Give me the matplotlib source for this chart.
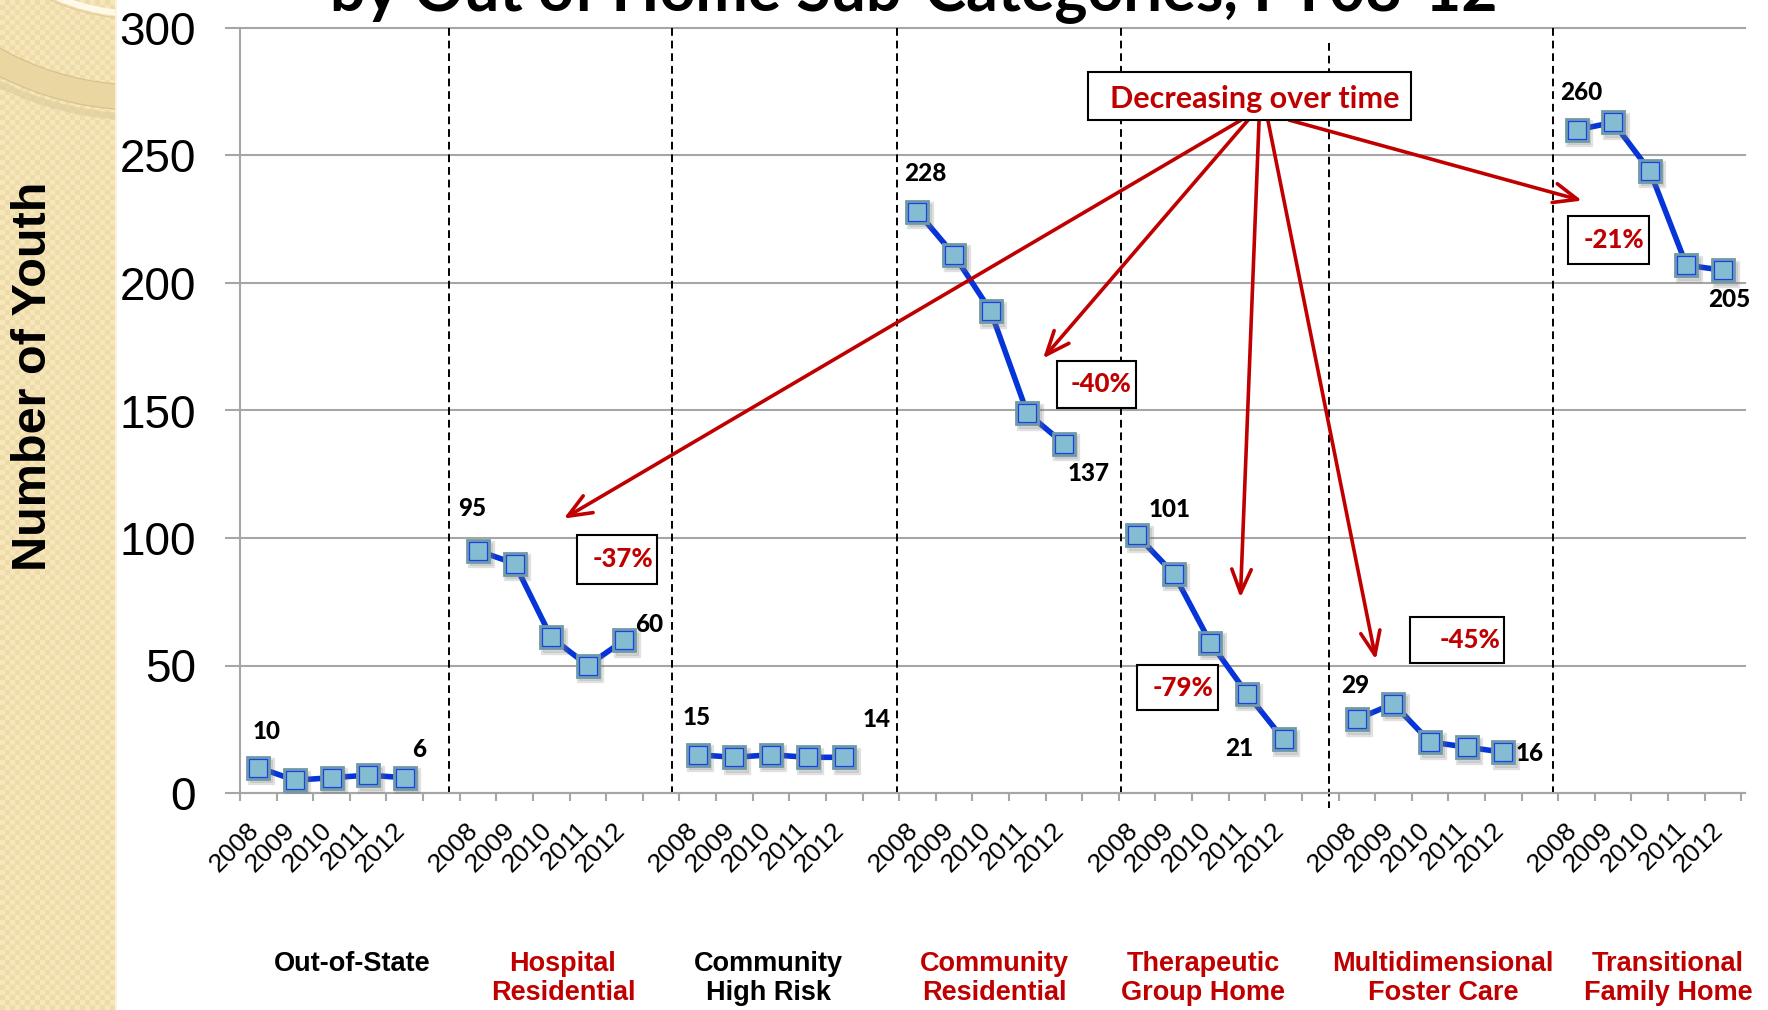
import numpy as np
import matplotlib.pyplot as plt
from matplotlib.patches import Rectangle, Circle
from matplotlib.transforms import ScaledTranslation

plt.rcParams['font.family'] = ['Liberation Sans', 'DejaVu Sans']

RED = '#C00000'
GRID = '#A6A6A6'
NARROW = ['Liberation Sans Narrow', 'Liberation Sans', 'DejaVu Sans']
HUMAN = ['Lato', 'DejaVu Sans']

years = ['2008', '2009', '2010', '2011', '2012']
categories = ['Out-of-State', 'Hospital\nResidential', 'Community\nHigh Risk',
              'Community\nResidential', 'Therapeutic\nGroup Home',
              'Multidimensional\nFoster Care', 'Transitional\nFamily Home']
cat_colors = ['black', RED, 'black', RED, RED, RED, RED]

out_of_state = [10, 5, 6, 7, 6]
hospital_res = [95, 90, 61, 50, 60]
community_high = [15, 14, 15, 14, 14]
community_res = [228, 211, 189, 149, 137]
therapeutic = [101, 86, 59, 39, 21]
foster_care = [29, 35, 20, 18, 16]
transitional = [260, 263, 244, 207, 205]
series = [out_of_state, hospital_res, community_high, community_res,
          therapeutic, foster_care, transitional]

# groups that get a percent-change box
pct_groups = [1, 3, 4, 5, 6]

# layout (slot units / pixel offsets)
group_w = 6
first_off = [(8, 36), (-6, 42), (-1, 37), (8, 38), (32, 26), (-2, 34), (5, 37)]
last_off = [(14, 28), (25, 16), (32, 38), (25, -30), (-44, -9), (26, -1), (6, -29)]
cat_x = [3.06, 8.82, 14.42, 20.6, 26.3, 32.85, 39.0]
sep_x = [5.71, 11.80, 17.95, 24.05, 29.73, 35.85]
pct_box = {1: (9.21, 82.0, 2.19, 19.2), 3: (22.30, 150.9, 2.16, 18.6),
           4: (24.49, 32.4, 2.21, 17.7), 5: (31.94, 51.0, 2.59, 18.1),
           6: (36.27, 207.5, 2.21, 18.8)}
note_box = (23.16, 263.9, 8.82, 18.8)
arrow_start = [(27.34, 263.9), (27.53, 263.9), (27.83, 263.9), (28.07, 263.9), (28.65, 263.9)]
arrow_tip = [(8.84, 107.6), (21.93, 170.4), (27.32, 76.6), (31.02, 52.3), (36.65, 232.3)]

fig = plt.figure(figsize=(17.68, 10.10), dpi=100)
fig.patch.set_facecolor('white')

# tan side strip with a checker texture and ring
side = fig.add_axes([0, 0, 117 / 1768, 1])
yy, xx = np.mgrid[0:1010, 0:117]
tex = ((xx // 5 + yy // 5) % 2).astype(float)
side.imshow(tex, cmap=plt.matplotlib.colors.ListedColormap(['#F6E6BC', '#EEDBA8']),
            extent=(0, 117, 1010, 0), interpolation='nearest', aspect='auto')
side.add_patch(Circle((140, -200), 317, fill=False, lw=5, ec='#DCCB9C', alpha=0.6))
side.add_patch(Circle((140, -200), 297.5, fill=False, lw=18, ec='#EAD6A0'))
side.add_patch(Circle((140, -200), 285, fill=False, lw=0.8, ec='#D5C08A'))
side.add_patch(Circle((140, -200), 310, fill=False, lw=0.8, ec='#D5C08A'))
side.add_patch(Circle((140, -200), 219, fill=False, lw=1, ec='#E2CF9C'))
side.add_patch(Circle((140, -200), 214, fill=False, lw=4.5, ec='#FFF9E9'))
side.axvline(116, color='#FBF3DC', lw=2)
side.set_xlim(0, 117)
side.set_ylim(1010, 0)
side.axis('off')

ax = fig.add_axes([240 / 1768, 1 - 793 / 1010, 1505 / 1768, 765 / 1010])
ax.set_xlim(0, 41.1)
ax.set_ylim(0, 300)
ax.set_facecolor('none')

for s in ['top', 'right']:
    ax.spines[s].set_visible(False)
for s in ['left', 'bottom']:
    ax.spines[s].set_color(GRID)
    ax.spines[s].set_linewidth(1.5)

ax.set_yticks(range(0, 301, 50))
ax.yaxis.grid(True, color=GRID, lw=1.5)
for gl in ax.get_ygridlines():
    gl.set_clip_on(False)
ax.tick_params(axis='y', direction='out', length=10.8, width=1.5, color=GRID,
               labelsize=33, pad=21, labelfontfamily=NARROW)

ax.set_xticks(range(0, 42))
ax.set_xticklabels([])
ax.tick_params(axis='x', which='major', direction='out', length=5.8, width=1.5, color=GRID)
centers, labels = [], []
for g in range(len(series)):
    for i, yr in enumerate(years):
        centers.append(g * group_w + i + 0.5)
        labels.append(yr)
ax.set_xticks(centers, minor=True)
ax.set_xticklabels(labels, minor=True, rotation=45, ha='right', fontsize=19)
ax.tick_params(axis='x', which='minor', length=0, pad=18)
shift = ScaledTranslation(0.05, 0, fig.dpi_scale_trans)
for lbl in ax.get_xticklabels(minor=True):
    lbl.set_transform(lbl.get_transform() + shift)

# dashed separators between sub-categories
for k, sx in enumerate(sep_x):
    if k == 4:
        ax.plot([sx, sx], [294, -6], color='black', lw=1.4, ls=(0, (4, 2.5)),
                clip_on=False, zorder=2)
    else:
        ax.plot([sx, sx], [300, 0], color='black', lw=1.4, ls=(0, (4, 2.5)),
                clip_on=False, zorder=2)

shadow = ax.transData + ScaledTranslation(0.025, -0.035, fig.dpi_scale_trans)
for g, vals in enumerate(series):
    xs = g * group_w + np.arange(len(vals)) + 0.5
    ax.plot(xs, vals, color='#0535D8', lw=4.0, zorder=3, solid_capstyle='round')
    ax.plot(xs, vals, 's', ms=19, color='#7A7A7A', alpha=0.16, transform=shadow, zorder=3.5)
    ax.plot(xs, vals, 's', ms=16.5, color='#7A7A7A', alpha=0.2, transform=shadow, zorder=3.5)
    ax.plot(xs, vals, 's', ms=16.5, mfc='#84BCD1', mec='#6E9AA8', mew=2.0, zorder=4)
    ax.plot(xs, vals, 's', ms=13.6, mfc='none', mec='#1D3FE3', mew=0.9, zorder=5)
    ax.annotate(str(vals[0]), xy=(xs[0], vals[0]), xytext=first_off[g],
                textcoords='offset pixels', ha='center', va='center',
                fontsize=17.5, fontweight='black', family=HUMAN, zorder=6)
    ax.annotate(str(vals[-1]), xy=(xs[-1], vals[-1]), xytext=last_off[g],
                textcoords='offset pixels', ha='center', va='center',
                fontsize=17.5, fontweight='black', family=HUMAN, zorder=6)

# category names under each block
for name, cx, col in zip(categories, cat_x, cat_colors):
    ax.text(cx, -0.207, name, transform=ax.get_xaxis_transform(), ha='center', va='top',
            multialignment='center', fontsize=19.5, fontweight='bold', color=col,
            family=NARROW, linespacing=1.15)

# percent change boxes
for g in pct_groups:
    vals = series[g]
    pct = round((vals[-1] - vals[0]) / vals[0] * 100)
    x0, y0, w, h = pct_box[g]
    ax.add_patch(Rectangle((x0, y0), w, h, fc='white', ec='black', lw=1.5,
                           zorder=7, clip_on=False))
    ax.text(x0 + w - 0.12, y0 + h / 2, f'{pct}%', ha='right', va='center',
            color=RED, fontsize=18.5, fontweight='black', family=HUMAN, zorder=8)

# note box and arrows
x0, y0, w, h = note_box
ax.add_patch(Rectangle((x0, y0), w, h, fc='white', ec='black', lw=1.5, zorder=7, clip_on=False))
ax.text(x0 + w / 2 + 0.15, y0 + h / 2 - 1.2, 'Decreasing over time', ha='center', va='center',
        color=RED, fontsize=22, fontweight='bold', family=HUMAN, zorder=8)
for st, tp in zip(arrow_start, arrow_tip):
    ax.annotate('', xy=tp, xytext=st, zorder=6,
                arrowprops=dict(arrowstyle='->,head_length=1.7,head_width=0.7',
                                color=RED, lw=2.6, shrinkA=0, shrinkB=0))

fig.text(34 / 1768, 1 - 376 / 1010, 'Number of Youth', rotation=90, ha='center',
         va='center', fontsize=35, fontweight='bold')
fig.text(330 / 1768, 1 - 10 / 1010, 'by Out of Home Sub-Categories, FY08-12', ha='left',
         va='baseline', fontsize=45, fontweight='bold', family=HUMAN)

fig.savefig('out.png', dpi=100)
